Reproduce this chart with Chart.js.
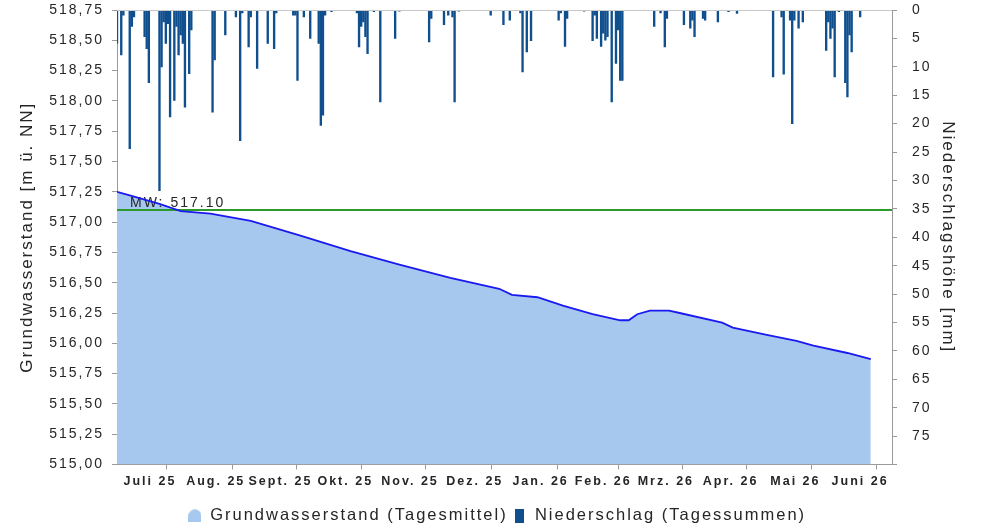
<!DOCTYPE html>
<html>
<head>
<meta charset="utf-8">
<title>Grundwasserstand</title>
<script src="https://cdn.jsdelivr.net/npm/chart.js@4.4.1/dist/chart.umd.min.js"></script>
<style>
  html, body { margin: 0; padding: 0; background: #fff; }
  #wrap { width: 994px; height: 527px; }
</style>
</head>
<body>
<div id="wrap"><canvas id="gwChart" width="994" height="527"></canvas></div>
<script>
// days counted from 1 July 2025
const monthStarts = [0, 31, 62, 92, 123, 153, 184, 215, 243, 274, 304, 335, 365];
const monthLabels = ['Juli 25', 'Aug. 25', 'Sept. 25', 'Okt. 25', 'Nov. 25', 'Dez. 25',
  'Jan. 26', 'Feb. 26', 'Mrz. 26', 'Apr. 26', 'Mai 26', 'Juni 26'];

// Grundwasserstand, Tagesmittel [m ü. NN]
const gwDays  = [0, 6, 20, 30, 44, 63, 86, 110, 133, 157, 180, 186, 198, 210, 224, 237, 241,
  245, 251, 260, 265, 285, 290, 306, 320, 328, 344, 355];
const gwLevel = [517.25, 517.22, 517.15, 517.09, 517.07, 517.01, 516.89, 516.76, 516.65, 516.54,
  516.45, 516.40, 516.38, 516.31, 516.24, 516.19, 516.19, 516.24, 516.27, 516.27, 516.25,
  516.17, 516.13, 516.07, 516.02, 515.98, 515.92, 515.87];

// Niederschlag, Tagessummen [mm] (nur Tage mit Regen)
const rainDays = [0, 2, 3, 6, 7, 8, 13, 14, 15, 20, 21, 22, 23, 24, 25, 27, 28, 29, 30, 31, 32,
  34, 35, 45, 46, 51, 56, 58, 59, 62, 63, 66, 71, 74, 75, 83, 84, 85, 88, 91, 95, 96, 97, 98,
  101, 113, 114, 115, 116, 117, 118, 121, 124, 131, 133, 147, 148, 154, 156, 158, 159, 161,
  176, 182, 185, 190, 191, 193, 195, 208, 209, 211, 212, 220, 224, 225, 226, 228, 229, 230,
  231, 233, 235, 236, 237, 238, 253, 256, 258, 259, 267, 270, 271, 272, 276, 277, 283, 288,
  292, 309, 313, 314, 317, 318, 319, 321, 323, 334, 335, 336, 337, 338, 340, 343, 344, 345,
  346, 350];
const rainMm = [5.9, 7.9, 0.9, 24.4, 2.9, 1.2, 4.7, 6.8, 12.8, 31.8, 10.0, 2.1, 5.9, 2.4, 18.8,
  15.9, 2.9, 7.9, 4.4, 5.9, 17.1, 11.2, 3.5, 18.0, 8.8, 4.4, 1.2, 23.0, 0.5, 6.5, 1.2, 10.3,
  5.9, 6.8, 0.5, 0.9, 0.9, 12.4, 1.2, 5.0, 5.9, 20.3, 18.5, 0.9, 0.3, 0.5, 6.5, 2.9, 2.1, 4.7,
  7.7, 0.3, 16.2, 5.0, 0.2, 5.6, 1.5, 2.6, 0.9, 1.2, 16.2, 0.2, 0.9, 2.6, 1.8, 0.5, 10.9, 7.4,
  5.4, 1.8, 0.5, 6.4, 1.5, 0.2, 5.4, 0.9, 5.0, 6.4, 4.1, 5.3, 4.7, 16.2, 9.4, 3.5, 12.4, 12.4,
  2.9, 0.5, 6.5, 1.5, 2.6, 3.2, 1.8, 4.7, 1.5, 1.8, 2.1, 0.3, 0.6, 11.8, 1.2, 11.3, 1.8, 20.0,
  1.8, 3.2, 2.1, 7.1, 2.1, 5.0, 3.2, 11.8, 0.3, 12.8, 15.3, 4.4, 7.4, 1.2];

const mwLevel = 517.10;

const fontFam = '"Liberation Sans", Arial, sans-serif';
const textCol = '#262626';
const axisCol = '#9a9a9a';
const areaCol = '#a6c8ee';
const lineCol = '#1a1af0';
const rainCol = '#0f4f8e';

// label positions in the middle of each month
const monthMid = [];
for (let i = 0; i < monthLabels.length; i++) {
  monthMid.push((monthStarts[i] + monthStarts[i + 1]) / 2);
}

// small legend icons
function makeIcon(w, h, color, dome) {
  const c = document.createElement('canvas');
  c.width = w; c.height = h;
  const g = c.getContext('2d');
  g.fillStyle = color;
  if (dome) {
    g.beginPath();
    g.moveTo(0, h);
    g.lineTo(0, h * 0.55);
    g.bezierCurveTo(0, -h * 0.15, w, -h * 0.15, w, h * 0.55);
    g.lineTo(w, h);
    g.closePath();
    g.fill();
  } else {
    g.fillRect(0, 0, w, h);
  }
  return c;
}
const iconArea = makeIcon(13, 13, areaCol, true);
const iconRain = makeIcon(9, 14, rainCol, false);

// the labels on this chart are drawn a bit spread out
const spacing = {
  id: 'spacing',
  beforeUpdate(chart) { chart.ctx.letterSpacing = '2px'; },
  beforeDraw(chart) { chart.ctx.letterSpacing = '2px'; }
};

// push the legend a little closer to the bottom edge
const legendShift = {
  id: 'legendShift',
  afterLayout(chart) {
    chart.legend.top += 7;
    chart.legend.bottom += 7;
  }
};

// top frame line
const frameTop = {
  id: 'frameTop',
  afterDatasetsDraw(chart) {
    const ctx = chart.ctx;
    const a = chart.chartArea;
    ctx.save();
    ctx.strokeStyle = '#c8c8c8';
    ctx.lineWidth = 1;
    ctx.beginPath();
    ctx.moveTo(a.left, a.top + 0.5);
    ctx.lineTo(a.right, a.top + 0.5);
    ctx.stroke();
    ctx.restore();
  }
};

// mean water level: drawn over the area fill, under the level line
const mwLine = {
  id: 'mwLine',
  beforeDatasetDraw(chart, args) {
    if (args.index !== 0) return;
    const ctx = chart.ctx;
    const a = chart.chartArea;
    const py = chart.scales.y.getPixelForValue(mwLevel);
    ctx.save();
    ctx.strokeStyle = '#2c9a2c';
    ctx.lineWidth = 2;
    ctx.beginPath();
    ctx.moveTo(a.left, py);
    ctx.lineTo(a.right, py);
    ctx.stroke();

    ctx.font = '14px ' + fontFam;
    ctx.fillStyle = textCol;
    ctx.textAlign = 'left';
    ctx.textBaseline = 'alphabetic';
    ctx.fillText('MW: ' + mwLevel.toFixed(2), a.left + 13, py - 3);
    ctx.restore();
  }
};

// vertical axes: no extra room for the outer labels
function fixVertical(width) {
  return function (scale) {
    scale.width = width;
    scale.paddingTop = 0;
    scale.paddingBottom = 0;
  };
}

const gwChart = new Chart(document.getElementById('gwChart'), {
  type: 'line',
  data: {
    datasets: [{
      label: 'Grundwasserstand (Tagesmittel)',
      data: gwDays.map((d, i) => ({ x: d, y: gwLevel[i] })),
      yAxisID: 'y',
      borderColor: lineCol,
      borderWidth: 1.8,
      backgroundColor: areaCol,
      fill: 'start',
      pointRadius: 0,
      tension: 0,
      order: 2
    }, {
      type: 'bar',
      label: 'Niederschlag (Tagessummen)',
      data: rainDays.map((d, i) => ({ x: d, y: rainMm[i] })),
      yAxisID: 'y2',
      backgroundColor: rainCol,
      barThickness: 1.7,
      order: 1
    }]
  },
  options: {
    responsive: false,
    animation: false,
    layout: { padding: { top: 10, left: 0, right: 0, bottom: 0 } },
    plugins: {
      tooltip: { enabled: false },
      legend: {
        position: 'bottom',
        labels: {
          usePointStyle: true,
          boxWidth: 14,
          boxHeight: 14,
          padding: 5,
          color: textCol,
          font: { family: fontFam, size: 16.5 },
          generateLabels: () => [
            { text: 'Grundwasserstand (Tagesmittel)', pointStyle: iconArea, fillStyle: areaCol,
              strokeStyle: areaCol, lineWidth: 0, hidden: false, datasetIndex: 0, fontColor: textCol },
            { text: 'Niederschlag (Tagessummen)', pointStyle: iconRain, fillStyle: rainCol,
              strokeStyle: rainCol, lineWidth: 0, hidden: false, datasetIndex: 1, fontColor: textCol }
          ]
        }
      }
    },
    scales: {
      x: {
        type: 'linear',
        min: 0,
        max: 365,
        offset: false,
        afterBuildTicks(scale) {
          scale.ticks = monthStarts.concat(monthMid).sort((a, b) => a - b).map(v => ({ value: v }));
        },
        afterFit(scale) {
          scale.height = 31;
          scale.paddingLeft = 0;
          scale.paddingRight = 0;
        },
        ticks: {
          autoSkip: false,
          maxRotation: 0,
          padding: 5,
          color: textCol,
          font: { family: fontFam, size: 12.5, weight: 'bold' },
          callback(value) {
            const i = monthMid.indexOf(value);
            return i >= 0 ? monthLabels[i] : '';
          }
        },
        grid: {
          drawOnChartArea: false,
          tickLength: 5,
          tickColor: ctx => (ctx.tick && monthStarts.includes(ctx.tick.value)) ? axisCol : 'rgba(0,0,0,0)'
        },
        border: { color: axisCol }
      },
      y: {
        position: 'left',
        min: 515,
        max: 518.75,
        afterFit: fixVertical(117),
        ticks: {
          stepSize: 0.25,
          padding: 8,
          color: textCol,
          font: { family: fontFam, size: 14 },
          callback: v => v.toFixed(2).replace('.', ',')
        },
        grid: { drawOnChartArea: false, tickLength: 5, tickColor: axisCol },
        border: { color: axisCol },
        title: {
          display: true,
          text: 'Grundwasserstand [m ü. NN]',
          color: textCol,
          font: { family: fontFam, size: 17 },
          padding: { top: 17, bottom: 0 }
        }
      },
      y2: {
        position: 'right',
        min: 0,
        max: 80,
        reverse: true,
        afterFit: fixVertical(102),
        ticks: {
          stepSize: 5,
          padding: 15,
          color: textCol,
          font: { family: fontFam, size: 14 },
          callback: v => (v === 80 ? '' : v)
        },
        grid: { drawOnChartArea: false, tickLength: 5, tickColor: axisCol },
        border: { color: axisCol },
        title: {
          display: true,
          text: 'Niederschlagshöhe [mm]',
          color: textCol,
          font: { family: fontFam, size: 17 },
          padding: { top: 36, bottom: 0 }
        }
      }
    }
  },
  plugins: [spacing, legendShift, frameTop, mwLine]
});
</script>
</body>
</html>
